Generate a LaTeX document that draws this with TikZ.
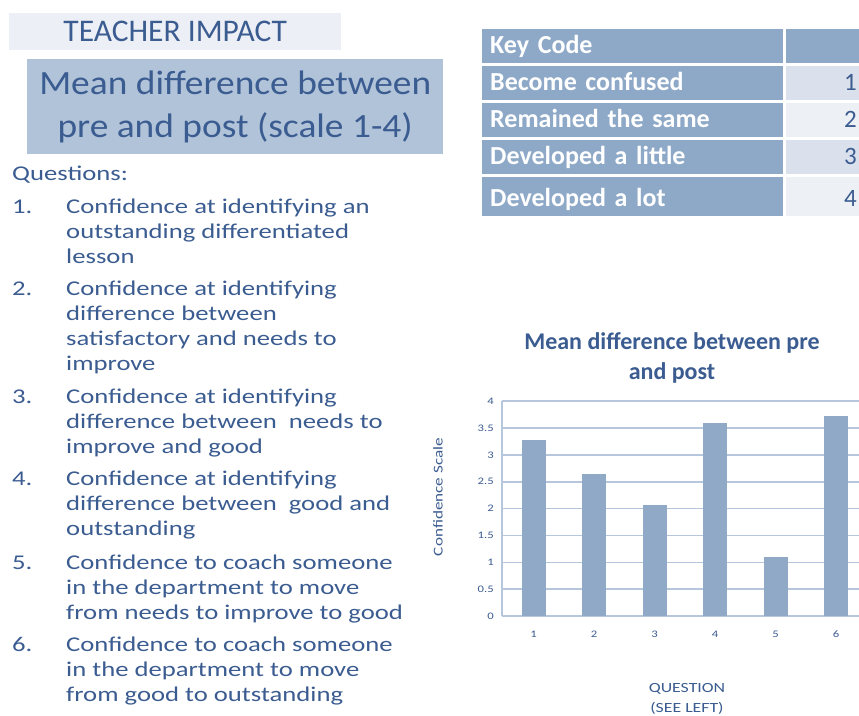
\documentclass[tikz,border=0pt]{standalone}
\usepackage{fontspec}
\setmainfont{Carlito}
\newfontfamily\qfont[FakeStretch=1.27]{Carlito}
\newfontfamily\headfont[FakeStretch=1.1]{Carlito}
\usetikzlibrary{matrix}
\definecolor{ink}{HTML}{3B5C90}
\definecolor{paleblue}{HTML}{ECEFF5}
\definecolor{titleblue}{HTML}{B1C3D9}
\definecolor{keyblue}{HTML}{8EA9C8}
\definecolor{cellA}{HTML}{DAE1EC}
\definecolor{cellB}{HTML}{EDF0F5}
\definecolor{barblue}{HTML}{8FA9C7}
\definecolor{gridblue}{HTML}{B5C6DD}
\newcommand{\qitem}[2]{\begin{tabular}[t]{@{}p{54pt}@{}l@{}}#1 & \begin{tabular}[t]{@{}l@{}}#2\end{tabular}\end{tabular}}

\begin{document}
\begin{tikzpicture}[x=1pt,y=-1pt,
  every node/.style={text=ink, inner sep=0pt},
  qtext/.style={font=\qfont\fontsize{21}{25}\selectfont, anchor=base west},
  ticklab/.style={font=\qfont\fontsize{10}{11}\selectfont},
  gridline/.style={draw=gridblue, line width=1.5pt}]
  \useasboundingbox (0,0) rectangle (859,715);
  \clip (0,0) rectangle (859,715);

  % headings
  \node[fill=paleblue, minimum width=332, minimum height=37, anchor=north west,
    font=\fontsize{31.5}{34}\selectfont] (impact) at (9,13) {TEACHER IMPACT};
  \node[fill=titleblue, minimum width=416, minimum height=95, anchor=north west,
    align=center, font=\headfont\fontsize{34}{43}\selectfont] (meandiff) at (27,59)
    {Mean difference between\\pre and post (scale 1-4)};

  % question list
  \node[qtext] (questions) at (12,180) {Questions:};
  \node[qtext] (q1) at (12,213) {\qitem{1.}{Confidence at identifying an\\outstanding differentiated\\lesson}};
  \node[qtext] (q2) at (12,295) {\qitem{2.}{Confidence at identifying\\difference between\\satisfactory and needs to\\improve}};
  \node[qtext] (q3) at (12,403) {\qitem{3.}{Confidence at identifying\\difference between \ needs to\\improve and good}};
  \node[qtext] (q4) at (12,485) {\qitem{4.}{Confidence at identifying\\difference between \ good and\\outstanding}};
  \node[qtext] (q5) at (12,569) {\qitem{5.}{Confidence to coach someone\\in the department to move\\from needs to improve to good}};
  \node[qtext] (q6) at (12,651) {\qitem{6.}{Confidence to coach someone\\in the department to move\\from good to outstanding}};

  % key code table
  \matrix (key) [matrix of nodes, anchor=north west, row sep=3pt, column sep=2.5pt,
    nodes={inner xsep=8pt, inner ysep=0pt, text height=24pt, text depth=10pt,
      font=\fontsize{25}{28}\selectfont},
    column 1/.style={nodes={fill=keyblue, text=white, text width=285pt, align=left,
      font=\fontsize{26}{28}\selectfont\bfseries}},
    column 2/.style={nodes={inner xsep=9pt, text width=62pt, align=right}},
    row 1 column 2/.style={nodes={fill=keyblue}},
    row 2 column 2/.style={nodes={fill=cellA}},
    row 3 column 2/.style={nodes={fill=cellB}},
    row 4 column 2/.style={nodes={fill=cellA}},
    row 5/.style={nodes={text height=29pt}},
    row 5 column 2/.style={nodes={fill=cellB}}] at (482,29)
  { Key Code & \mbox{} \\
    Become confused & 1 \\
    Remained the same & 2 \\
    Developed a little & 3 \\
    Developed a lot & 4 \\};

  % chart
  \node[anchor=base, font=\fontsize{24}{29}\selectfont\bfseries] (ctitle1) at (672,349) {Mean difference between pre};
  \node[anchor=base, font=\fontsize{24}{29}\selectfont\bfseries] (ctitle2) at (672,379) {and post};
  \begin{scope}[shift={(0,616)}, y=53.7pt]
    \foreach \t [count=\i] in {0,0.5,1,1.5,2,2.5,3,3.5,4} {
      \draw[gridline] (502,\t) -- (870,\t);
      \node[ticklab, anchor=east] (ytick\i) at (494,\t) {\t};
    }
    \draw[gridline] (502,0) -- (502,4);
    \foreach \q/\v in {1/3.28,2/2.65,3/2.06,4/3.59,5/1.09,6/3.73} {
      \fill[barblue] ({473+60.5*\q-12},0) rectangle ++(24,\v);
      \node[ticklab] (xtick\q) at ({473+60.5*\q},-0.34) {\q};
    }
  \end{scope}
  \node[rotate=90, font=\qfont\fontsize{13.5}{15}\selectfont] (yaxis) at (438,497) {Confidence Scale};
  \node[anchor=base, font=\qfont\fontsize{14}{16}\selectfont] (xaxis1) at (687,692) {QUESTION};
  \node[anchor=base, font=\qfont\fontsize{14}{16}\selectfont] (xaxis2) at (687,712) {(SEE LEFT)};
\end{tikzpicture}
\end{document}
